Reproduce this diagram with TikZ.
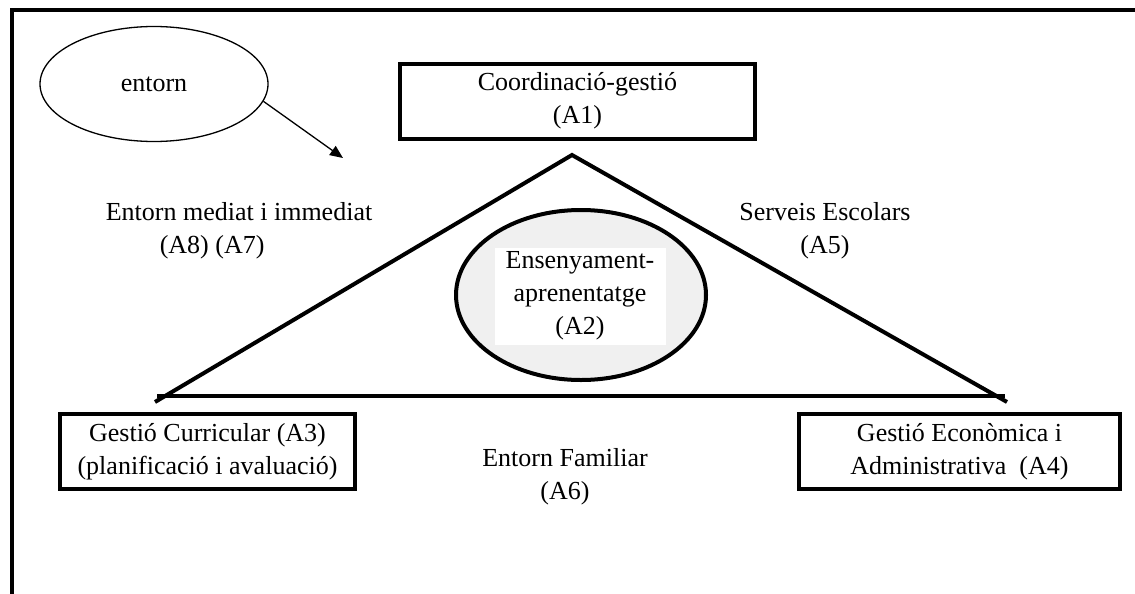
\documentclass[tikz,border=0pt]{standalone}
\usepackage{fontspec}
\setmainfont{Liberation Serif}
\usetikzlibrary{shapes.geometric,arrows.meta}
\tikzset{
  areabox/.style={draw, line width=2pt, minimum height=37.5pt, align=center, inner sep=0pt},
  thickline/.style={line width=2pt},
  areatext/.style={align=center, inner sep=0pt},
}
\begin{document}
\begin{tikzpicture}[x=0.5pt,y=-0.5pt,>={Triangle[length=6.5pt,width=5.5pt]},
    font=\fontsize{13}{16.5}\selectfont]
    \useasboundingbox (0,0) rectangle (1135,594);
    % frame (only top and left side visible)
    \draw [thickline] (12,594) -- (12,10) -- (1135,10);
    % entorn and its arrow
    \node [ellipse, draw, line width=0.65pt, minimum width=114pt, minimum height=57.5pt, inner sep=0pt] (entorn) at (154,84) {entorn};
    \coordinate (arrowend) at (343,158);
    \draw [->, line width=0.65pt] (entorn.-9) -- (arrowend);
    % triangle
    \coordinate (apex) at (572,155);
    \coordinate (lcorner) at (155,402);
    \coordinate (rcorner) at (1007,402);
    \coordinate (lbase) at (157,396);
    \coordinate (rbase) at (1005,396);
    \draw [thickline] (lcorner) -- (apex) -- (rcorner);
    \draw [thickline] (lbase) -- (rbase);
    % boxes
    \node [areabox, minimum width=177.5pt] (a1) at (577.5,101) {Coordinació-gestió\\(A1)};
    \node [areabox, minimum width=147.5pt] (a3) at (207.5,451.5) {Gestió Curricular (A3)\\(planificació i avaluació)};
    \node [areabox, minimum width=160.5pt] (a4) at (959.5,451.5) {Gestió Econòmica i\\Administrativa\ \ (A4)};
    % centre
    \node [ellipse, draw, line width=2pt, fill=black!6, minimum width=125pt, minimum height=85pt] (a2ring) at (581,295) {};
    \node [areatext, fill=white, minimum width=85.5pt, minimum height=48.5pt] (a2) at (580,296) {Ensenyament-\\aprenentatge\\(A2)};
    % surroundings
    \node [areatext, align=left] (a8) at (239,231) {Entorn mediat i immediat\\\hspace*{27pt}(A8) (A7)};
    \node [areatext] (a5) at (825,231) {Serveis Escolars\\(A5)};
    \node [areatext] (a6) at (565,477) {Entorn Familiar\\(A6)};
\end{tikzpicture}
\end{document}
